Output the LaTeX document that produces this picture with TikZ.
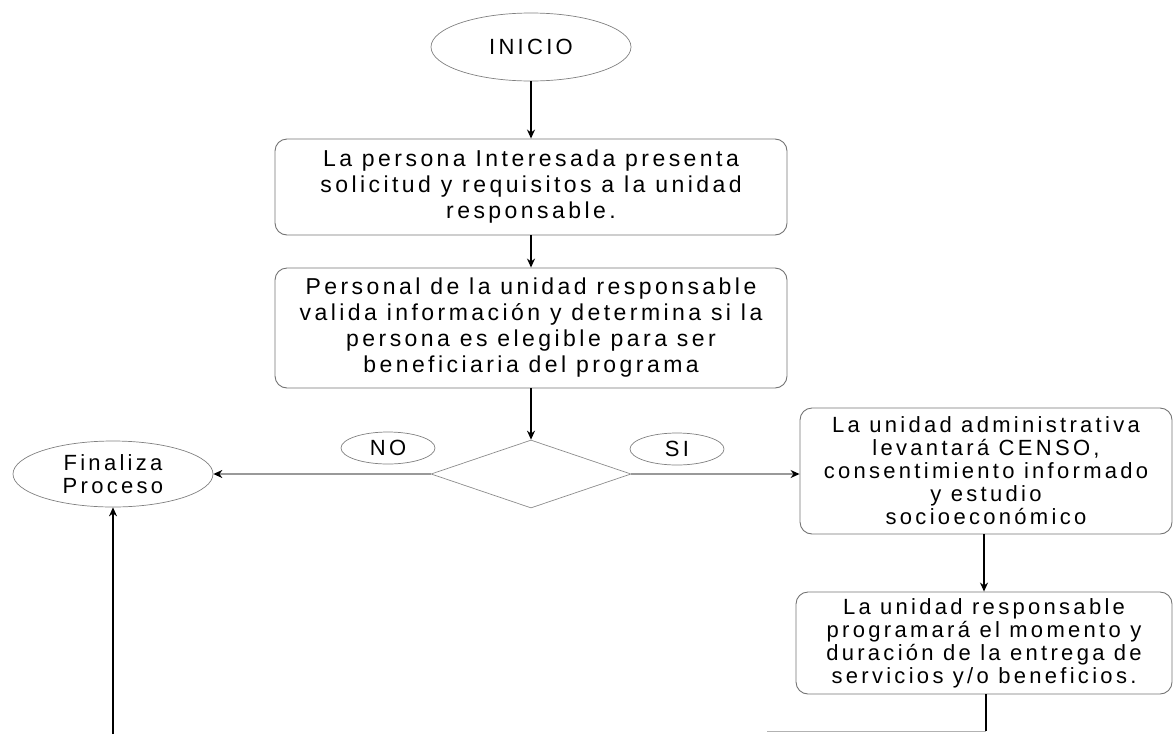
\documentclass[tikz,border=0pt]{standalone}
\usepackage{fontspec}
\setmainfont{Liberation Sans}[LetterSpace=15]
\usetikzlibrary{shapes.geometric,arrows.meta}

\tikzset{
  proc/.style={draw=black!55, line width=0.9pt, rounded corners=12pt, align=center, inner sep=0pt},
  term/.style={draw=black!50, ellipse, line width=0.7pt, align=center, inner sep=0pt},
  flow/.style={-{Stealth[length=9pt,width=8pt]}, line width=1.3pt},
  side/.style={draw=black!40, line width=1.3pt, -{Stealth[length=9pt,width=8pt,black]}},
  big/.style={font=\fontsize{23}{26}\selectfont},
  small/.style={font=\fontsize{22}{23}\selectfont},
}

\begin{document}
\begin{tikzpicture}[x=1pt, y=-1pt]
\useasboundingbox (0,0) rectangle (1174,734);

\node[term, small, minimum width=200pt, minimum height=68pt] (inicio) at (531,47) {INICIO};
\node[proc, big, minimum width=512pt, minimum height=96pt] (solicitud) at (531,187)
  {La persona Interesada presenta\\solicitud y requisitos a la unidad\\responsable.};
\node[proc, big, minimum width=512pt, minimum height=120pt] (valida) at (531,328)
  {Personal de la unidad responsable\\valida información y determina si la\\persona es elegible para ser\\beneficiaria del programa};
\node[draw=black!45, diamond, line width=0.7pt, inner sep=0pt, minimum width=200pt, minimum height=68pt] (decision) at (531,474) {};
\node[term, small, minimum width=94pt, minimum height=32pt] (no) at (388,448) {NO};
\node[term, small, minimum width=94pt, minimum height=32pt] (si) at (677,449) {SI};
\node[term, small, minimum width=200pt, minimum height=66pt] (fin) at (113,474) {Finaliza\\Proceso};
\node[proc, small, minimum width=372pt, minimum height=126pt] (censo) at (986,471)
  {La unidad administrativa\\levantará CENSO,\\consentimiento informado\\y estudio\\socioeconómico};
\node[proc, small, minimum width=376pt, minimum height=102pt] (programa) at (984,643)
  {La unidad responsable\\programará el momento y\\duración de la entrega de\\servicios y/o beneficios.};

\coordinate (abajo) at (986,731);
\coordinate (corte) at (767,731);
\coordinate (retorno) at (113,734);

\draw[flow] (inicio) -- (solicitud);
\draw[flow] (solicitud) -- (valida);
\draw[flow] (valida) -- (decision);
\draw[side] (decision.west) -- (fin.east);
\draw[side] (decision.east) -- (censo.west |- decision.east);
\draw[flow] (censo.south -| programa.north) -- (programa.north);
\draw[line width=1.3pt] (programa.south -| abajo) -- (abajo);
\draw[draw=black!30, line width=1pt] (abajo) -- (corte);
\draw[flow] (retorno) -- (fin.south);
\end{tikzpicture}
\end{document}
